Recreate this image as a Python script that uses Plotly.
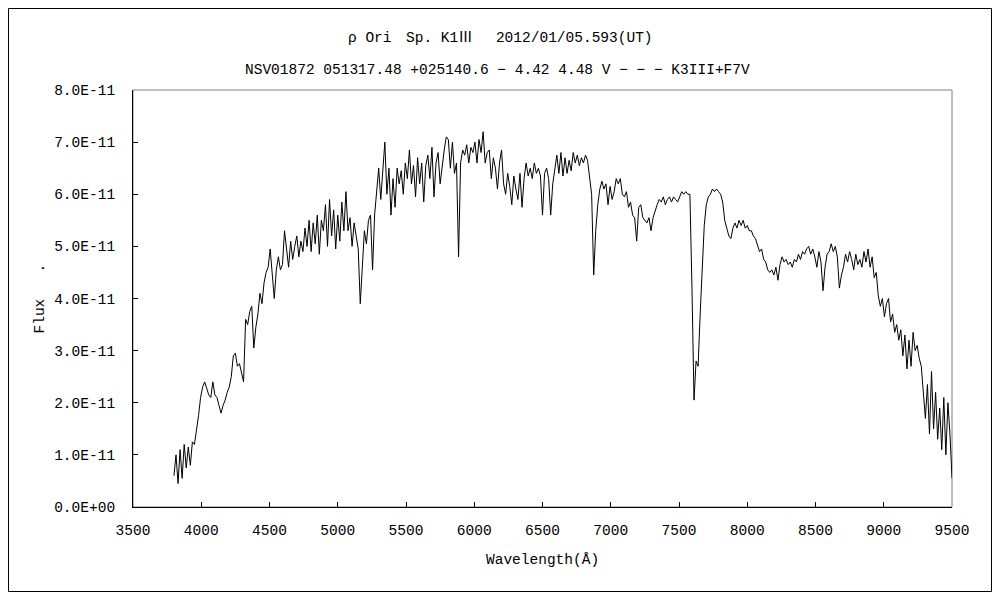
import plotly.graph_objects as go

# =============================================================================
# DATA  (flux in units of 1E-11)
# =============================================================================

wavelength = [
    3800, 3815, 3830, 3845, 3860, 3875, 3890, 3905, 3920, 3935, 3950, 3965, 3980, 3995,
    4010, 4025, 4040, 4055, 4070, 4085, 4100, 4115, 4130, 4145, 4160, 4175, 4190, 4205,
    4220, 4235, 4250, 4265, 4280, 4295, 4310, 4325, 4340, 4355, 4370, 4385, 4400, 4415,
    4430, 4445, 4460, 4475, 4490, 4505, 4520, 4535, 4550, 4565, 4580, 4595, 4610, 4625,
    4640, 4655, 4670, 4685, 4700, 4715, 4730, 4745, 4760, 4775, 4790, 4805, 4820, 4835,
    4850, 4865, 4880, 4895, 4910, 4925, 4940, 4955, 4970, 4985, 5000, 5015, 5030, 5045,
    5060, 5075, 5090, 5105, 5120, 5135, 5150, 5165, 5180, 5195, 5210, 5225, 5240, 5255,
    5270, 5285, 5300, 5315, 5330, 5345, 5360, 5375, 5390, 5405, 5420, 5435, 5450, 5465,
    5480, 5495, 5510, 5525, 5540, 5555, 5570, 5585, 5600, 5615, 5630, 5645, 5660, 5675,
    5690, 5705, 5720, 5735, 5750, 5765, 5780, 5795, 5810, 5825, 5840, 5855, 5870, 5885,
    5900, 5915, 5930, 5945, 5960, 5975, 5990, 6005, 6020, 6035, 6050, 6065, 6080, 6095,
    6110, 6125, 6140, 6155, 6170, 6185, 6200, 6215, 6230, 6245, 6260, 6275, 6290, 6305,
    6320, 6335, 6350, 6365, 6380, 6395, 6410, 6425, 6440, 6455, 6470, 6485, 6500, 6515,
    6530, 6545, 6560, 6575, 6590, 6605, 6620, 6635, 6650, 6665, 6680, 6695, 6710, 6725,
    6740, 6755, 6770, 6785, 6800, 6815, 6830, 6845, 6860, 6875, 6890, 6905, 6920, 6935,
    6950, 6965, 6980, 6995, 7010, 7025, 7040, 7055, 7070, 7085, 7100, 7115, 7130, 7145,
    7160, 7175, 7190, 7205, 7220, 7235, 7250, 7265, 7280, 7295, 7310, 7325, 7340, 7355,
    7370, 7385, 7400, 7415, 7430, 7445, 7460, 7475, 7490, 7505, 7520, 7535, 7550, 7565,
    7580, 7595, 7610, 7625, 7640, 7655, 7670, 7685, 7700, 7715, 7730, 7745, 7760, 7775,
    7790, 7805, 7820, 7835, 7850, 7865, 7880, 7895, 7910, 7925, 7940, 7955, 7970, 7985,
    8000, 8015, 8030, 8045, 8060, 8075, 8090, 8105, 8120, 8135, 8150, 8165, 8180, 8195,
    8210, 8225, 8240, 8255, 8270, 8285, 8300, 8315, 8330, 8345, 8360, 8375, 8390, 8405,
    8420, 8435, 8450, 8465, 8480, 8495, 8510, 8525, 8540, 8555, 8570, 8585, 8600, 8615,
    8630, 8645, 8660, 8675, 8690, 8705, 8720, 8735, 8750, 8765, 8780, 8795, 8810, 8825,
    8840, 8855, 8870, 8885, 8900, 8915, 8930, 8945, 8960, 8975, 8990, 9005, 9020, 9035,
    9050, 9065, 9080, 9095, 9110, 9125, 9140, 9155, 9170, 9185, 9200, 9215, 9230, 9245,
    9260, 9275, 9290, 9305, 9320, 9335, 9350, 9365, 9380, 9395, 9410, 9425, 9440, 9455,
    9470, 9485, 9500,
]

flux = [
    0.6, 1.0, 0.45, 1.1, 0.55, 1.2, 0.75, 1.15, 0.8, 1.25, 1.2, 1.45, 1.75, 2.1,
    2.3, 2.4, 2.25, 2.15, 2.1, 2.4, 2.15, 2.1, 1.95, 1.8, 1.95, 2.05, 2.2, 2.3,
    2.5, 2.9, 2.95, 2.7, 2.75, 2.55, 2.4, 3.6, 3.5, 3.75, 3.85, 3.05, 3.45, 3.7,
    4.1, 3.9, 4.3, 4.5, 4.6, 4.95, 4.4, 4.0, 4.55, 4.8, 4.55, 4.65, 5.3, 4.9,
    4.6, 5.1, 4.75, 5.0, 5.2, 4.8, 5.1, 4.9, 5.35, 5.0, 5.5, 4.9, 5.45, 5.05,
    5.6, 4.85, 5.5, 5.3, 5.8, 5.0, 5.9, 5.2, 5.7, 4.95, 5.6, 5.1, 5.85, 5.3,
    6.05, 5.3, 5.55, 5.0, 5.45, 5.2, 4.95, 3.9, 4.7, 5.3, 5.05, 5.5, 5.6, 4.55,
    5.6, 6.1, 6.5, 5.9, 6.4, 7.0, 6.0, 6.5, 5.6, 6.3, 5.75, 6.5, 6.2, 6.45,
    6.0, 6.6, 6.3, 6.85, 6.2, 6.55, 5.95, 6.7, 6.2, 6.6, 5.85, 6.55, 6.75, 6.3,
    6.9, 5.95, 6.6, 6.8, 6.2, 6.55, 6.85, 7.1, 7.05, 6.5, 7.0, 6.4, 6.6, 4.8,
    6.6, 6.85, 6.75, 6.95, 6.6, 6.9, 6.8, 7.0, 6.6, 7.05, 6.8, 7.2, 6.6, 6.8,
    6.85, 6.3, 6.7, 6.5, 6.1, 6.6, 6.85, 6.2, 6.0, 6.4, 6.15, 5.8, 6.35, 6.1,
    5.9, 6.4, 5.75, 6.3, 6.6, 6.35, 6.5, 6.3, 6.6, 6.4, 6.5, 6.35, 5.6, 6.4,
    6.5, 6.3, 5.6, 6.2, 6.45, 6.75, 6.4, 6.8, 6.35, 6.7, 6.4, 6.65, 6.45, 6.8,
    6.6, 6.75, 6.55, 6.7, 6.6, 6.75, 6.65, 6.3, 6.0, 4.45, 5.3, 5.8, 6.1, 6.25,
    6.1, 6.2, 5.8, 6.15, 5.9, 6.05, 6.3, 6.2, 6.3, 6.0, 5.95, 6.05, 5.75, 5.85,
    5.6, 5.55, 5.1, 5.75, 5.8, 5.55, 5.5, 5.45, 5.55, 5.3, 5.55, 5.7, 5.8, 5.9,
    5.85, 5.95, 5.8, 5.9, 5.95, 5.85, 5.95, 5.9, 5.85, 5.95, 6.05, 6.0, 6.05, 6.0,
    6.0, 4.2, 2.05, 2.8, 2.7, 3.7, 4.5, 5.4, 5.8, 5.95, 6.0, 6.1, 6.05, 6.1,
    6.05, 6.0, 5.85, 5.5, 5.35, 5.2, 5.15, 5.35, 5.45, 5.35, 5.5, 5.4, 5.5, 5.35,
    5.4, 5.3, 5.3, 5.2, 5.15, 5.0, 4.9, 4.95, 4.75, 4.7, 4.55, 4.5, 4.55, 4.45,
    4.6, 4.35, 4.65, 4.8, 4.7, 4.75, 4.65, 4.7, 4.6, 4.75, 4.7, 4.85, 4.75, 4.9,
    4.85, 4.95, 5.0, 4.85, 4.95, 4.8, 4.6, 4.9, 4.7, 4.15, 4.6, 4.85, 4.9, 5.05,
    4.9, 5.0, 4.8, 4.2, 4.45, 4.6, 4.85, 4.7, 4.9, 4.75, 4.55, 4.85, 4.65, 4.75,
    4.6, 4.9, 4.7, 4.95, 4.6, 4.8, 4.4, 4.5, 4.05, 3.85, 4.0, 3.65, 3.9, 4.0,
    3.55, 3.7, 3.35, 3.5, 3.2, 3.4, 2.9, 3.3, 2.65, 3.2, 2.7, 3.35, 3.0, 3.1,
    2.85, 2.7, 2.2, 1.7, 2.35, 1.4, 2.6, 1.5, 2.2, 1.3, 1.9, 1.1, 2.1, 1.0,
    2.0, 1.4, 0.55,
]

x_ticks = [3500, 4000, 4500, 5000, 5500, 6000, 6500, 7000, 7500, 8000, 8500, 9000, 9500]
y_ticks = [0, 1, 2, 3, 4, 5, 6, 7, 8]
y_ticktext = ["0.0E+00", "1.0E-11", "2.0E-11", "3.0E-11", "4.0E-11",
              "5.0E-11", "6.0E-11", "7.0E-11", "8.0E-11"]

title_1 = "ρ Ori\u3000Sp. K1Ⅲ\u3000 2012/01/05.593(UT)"
title_2 = "NSV01872 051317.48 +025140.6 − 4.42 4.48 V − − − K3III+F7V"

FONT = "Liberation Mono, Noto Sans CJK JP, monospace"

# =============================================================================
# FIGURE
# =============================================================================

# plot area in pixels: x 133..952, y 90..507
L, R, T, B = 133, 952, 90, 507
W, H = R - L, B - T

def px_x(x):
    return (x - L) / W

def px_y(y):
    return (B - y) / H

fig = go.Figure()
fig.add_trace(go.Scatter(
    x=wavelength, y=flux, mode='lines',
    line=dict(color='black', width=1), showlegend=False
))

# grey plot-area border + black outer frame (Excel look)
fig.add_shape(type='rect', xref='paper', yref='paper', x0=0, x1=1, y0=0, y1=1,
              line=dict(color='#808080', width=1), layer='below')
fig.add_shape(type='rect', xref='paper', yref='paper',
              x0=px_x(8.5), x1=px_x(991.5), y0=px_y(591.5), y1=px_y(8.5),
              line=dict(color='black', width=1))

def label(text, x, y, **kw):
    fig.add_annotation(text=text, xref='paper', yref='paper', x=x, y=y,
                       xanchor='center', yanchor='middle', showarrow=False, **kw)

label(title_1, px_x(500), px_y(38))
label(title_2, px_x(497), px_y(70))
label("Wavelength(Å)", 0.5, px_y(560))
label("Flux" + "\u00a0" * 3 + ".", px_x(39), 0.5, textangle=-90)

fig.update_layout(
    width=1000, height=600,
    margin=dict(l=L, r=1000 - R, t=T, b=600 - B),
    paper_bgcolor='white', plot_bgcolor='white',
    font=dict(family=FONT, size=14.5, color='black'),
    xaxis=dict(range=[3500, 9500], tickvals=x_ticks, showgrid=False, zeroline=False,
               showline=True, linecolor='black', linewidth=1,
               ticks='inside', ticklen=5, tickcolor='black', ticklabelstandoff=10),
    yaxis=dict(range=[0, 8], tickvals=y_ticks, ticktext=y_ticktext, showgrid=False,
               zeroline=False, showline=True, linecolor='black', linewidth=1,
               ticks='inside', ticklen=5, tickcolor='black', ticklabelstandoff=14),
)

# page body has an 8px default margin; drop it so the chart sits at 0,0
fig.write_html("out.html", config={'displayModeBar': False},
               post_script="document.body.style.margin='0';")
